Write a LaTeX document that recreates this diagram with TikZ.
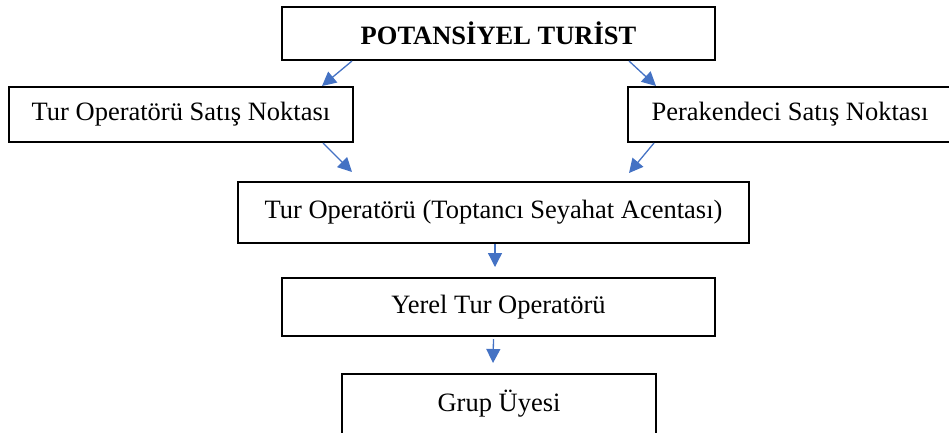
\documentclass[tikz,border=0pt]{standalone}
\usepackage{fontspec}
\setmainfont{Liberation Serif}
\definecolor{arrowblue}{RGB}{68, 114, 196}
\usetikzlibrary{arrows.meta,positioning}

\begin{document}
\begin{tikzpicture}[x=1pt, y=-1pt]
                \tikzstyle{bx} = [draw, line width=2pt, rectangle, inner sep=0pt, font=\fontsize{26.5}{32}\selectfont]
                \tikzstyle{ar} = [draw=arrowblue, line width=1.3pt, -{Triangle[length=14pt, width=14pt]}, arrowblue]
                \useasboundingbox (0,0) rectangle (949,432);

                \node [bx, minimum width=433pt, minimum height=53pt, font=\fontsize{26.5}{32}\selectfont\bfseries] (turist) at (498.5,33.5) {POTANSİYEL TURİST};
                \node [bx, minimum width=344pt, minimum height=55pt] (opsale) at (181,114.5) {Tur Operatörü Satış Noktası};
                \node [bx, minimum width=324pt, minimum height=55pt] (retail) at (790,114.5) {Perakendeci Satış Noktası};
                \node [bx, minimum width=511pt, minimum height=61pt] (whole) at (493.5,212.5) {Tur Operatörü (Toptancı Seyahat Acentası)};
                \node [bx, minimum width=433pt, minimum height=58pt] (local) at (498.5,307) {Yerel Tur Operatörü};
                \node [bx, minimum width=314pt, minimum height=60pt] (member) at (499,404) {Grup Üyesi};

                \draw [ar] ([xshift=71pt]turist.south west) -- ([xshift=314pt]opsale.north west);
                \draw [ar] ([xshift=-87pt]turist.south east) -- ([xshift=29pt]retail.north west);
                \draw [ar] ([xshift=-31pt]opsale.south east) -- ([xshift=115pt, yshift=9pt]whole.north west);
                \draw [ar] ([xshift=27pt]retail.south west) -- ([xshift=-121pt, yshift=8pt]whole.north east);
                \draw [ar] ([xshift=1.5pt]whole.south) -- ([xshift=-3.5pt, yshift=10pt]local.north);
                \draw [ar] ([xshift=-5pt, yshift=-2pt]local.south) -- ([xshift=-6pt, yshift=10pt]member.north);
            \end{tikzpicture}
\end{document}
